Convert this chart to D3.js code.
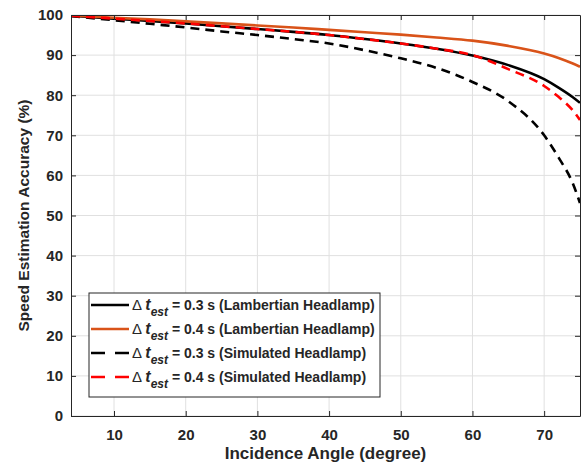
<!DOCTYPE html>
<html>
<head>
<meta charset="utf-8">
<script src="https://cdn.jsdelivr.net/npm/d3@7"></script>
<style>
  body { margin: 0; background: #fff; }
  text { font-family: "Liberation Sans", Arial, sans-serif; font-weight: bold; fill: #262626; }
</style>
</head>
<body>
<div id="chart"></div>
<script>
// incidence angle (degree)
const angles = [4, 10, 15, 20, 25, 30, 35, 40, 45, 50, 55, 60, 65, 70, 72, 74, 75];
// speed estimation accuracy (%)
const lambert03 = [99.8, 99.1, 98.5, 97.9, 97.2, 96.5, 95.8, 95.0, 94.0, 92.9, 91.6, 89.9, 87.5, 84.0, 81.9, 79.5, 78.1];
const lambert04 = [99.9, 99.3, 98.9, 98.4, 97.9, 97.4, 96.9, 96.3, 95.7, 95.1, 94.4, 93.6, 92.3, 90.4, 89.3, 87.9, 87.1];
const sim03 = [99.7, 98.7, 97.8, 96.9, 95.9, 95.0, 94.0, 92.9, 91.2, 89.2, 86.8, 83.3, 78.5, 70.0, 64.5, 58.0, 53.1];
const sim04 = [99.8, 99.1, 98.5, 97.9, 97.2, 96.5, 95.8, 95.0, 94.0, 92.9, 91.6, 90.0, 86.5, 82.3, 79.6, 76.2, 73.8];

const xTicks = [10, 20, 30, 40, 50, 60, 70];
const yTicks = [0, 10, 20, 30, 40, 50, 60, 70, 80, 90, 100];

const series = [
  { dt: "0.3", head: "Lambertian Headlamp", values: lambert03, color: "#000000", dash: null },
  { dt: "0.4", head: "Lambertian Headlamp", values: lambert04, color: "#D95319", dash: null },
  { dt: "0.3", head: "Simulated Headlamp", values: sim03, color: "#000000", dash: "9,6" },
  { dt: "0.4", head: "Simulated Headlamp", values: sim04, color: "#FF0000", dash: "9,6" }
];

const width = 582, height = 465;
const margin = { top: 15, right: 2, bottom: 49, left: 71 };
const w = width - margin.left - margin.right;
const h = height - margin.top - margin.bottom;

const svg = d3.select("#chart").append("svg")
  .attr("width", width)
  .attr("height", height);

const g = svg.append("g")
  .attr("transform", `translate(${margin.left},${margin.top})`);

const x = d3.scaleLinear().domain([4, 75]).range([0, w]);
const y = d3.scaleLinear().domain([0, 100]).range([h, 0]);

// grid
g.append("g").selectAll("line").data(xTicks).enter().append("line")
  .attr("x1", d => x(d)).attr("x2", d => x(d))
  .attr("y1", 0).attr("y2", h)
  .attr("stroke", "#e0e0e0");
g.append("g").selectAll("line").data(yTicks).enter().append("line")
  .attr("x1", 0).attr("x2", w)
  .attr("y1", d => y(d)).attr("y2", d => y(d))
  .attr("stroke", "#e0e0e0");

// curves
const line = d3.line()
  .x((d, i) => x(angles[i]))
  .y(d => y(d))
  .curve(d3.curveMonotoneX);

g.append("defs").append("clipPath").attr("id", "clip")
  .append("rect").attr("width", w).attr("height", h);

const curves = g.append("g").attr("clip-path", "url(#clip)");
series.forEach(s => {
  curves.append("path")
    .datum(s.values)
    .attr("d", line)
    .attr("fill", "none")
    .attr("stroke", s.color)
    .attr("stroke-width", 2.6)
    .attr("stroke-dasharray", s.dash);
});

// axes (ticks inward, box on)
const axisColor = "#262626";
g.append("g")
  .attr("transform", `translate(0,${h})`)
  .call(d3.axisBottom(x).tickValues(xTicks).tickSizeInner(-5).tickSizeOuter(0).tickPadding(13));
g.append("g")
  .call(d3.axisLeft(y).tickValues(yTicks).tickSizeInner(-5).tickSizeOuter(0).tickPadding(8));
g.append("g")
  .call(d3.axisTop(x).tickValues(xTicks).tickSizeInner(-5).tickSizeOuter(0).tickFormat(""));
g.append("g")
  .attr("transform", `translate(${w},0)`)
  .call(d3.axisRight(y).tickValues(yTicks).tickSizeInner(-5).tickSizeOuter(0).tickFormat(""));

g.selectAll(".domain").attr("stroke", axisColor).attr("stroke-width", 1);
g.selectAll(".tick line").attr("stroke", axisColor);
g.selectAll(".tick text")
  .style("font-family", "'Liberation Sans', Arial, sans-serif")
  .style("font-weight", "bold")
  .style("font-size", "15px")
  .attr("fill", axisColor);

// axis labels
svg.append("text")
  .attr("x", margin.left + w / 2)
  .attr("y", 459)
  .attr("text-anchor", "middle")
  .style("font-size", "17px")
  .text("Incidence Angle (degree)");

svg.append("text")
  .attr("transform", `translate(29,${margin.top + h / 2}) rotate(-90)`)
  .attr("text-anchor", "middle")
  .style("font-size", "15.5px")
  .text("Speed Estimation Accuracy (%)");

// legend
const legend = g.append("g").attr("transform", `translate(${89 - margin.left},${293 - margin.top})`);
legend.append("rect")
  .attr("width", 291).attr("height", 104)
  .attr("fill", "#fff")
  .attr("stroke", axisColor)
  .attr("stroke-width", 1);

series.forEach((s, i) => {
  const row = legend.append("g").attr("transform", `translate(0,${12 + i * 24})`);
  row.append("line")
    .attr("x1", 2).attr("x2", 40)
    .attr("y1", 0).attr("y2", 0)
    .attr("stroke", s.color)
    .attr("stroke-width", 2.6)
    .attr("stroke-dasharray", s.dash ? "14,10" : null);
  const t = row.append("text")
    .attr("x", 43)
    .attr("y", 5)
    .style("font-size", "14px")
    .attr("fill", "#000");
  t.append("tspan").style("font-weight", "normal").style("font-size", "15px").text("\u0394 ");
  t.append("tspan").style("font-style", "italic").style("font-size", "16px").text("t");
  t.append("tspan").attr("dy", 6).style("font-style", "italic").style("font-size", "12px").text("est");
  t.append("tspan").attr("dy", -6).text(` = ${s.dt} s (${s.head})`);
});
</script>
</body>
</html>
